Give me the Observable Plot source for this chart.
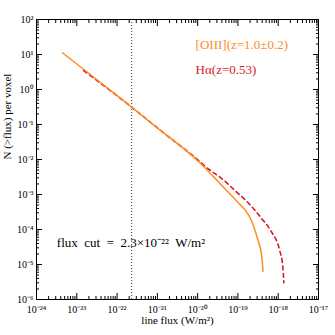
<!DOCTYPE html>
<html><head><meta charset="utf-8">
<script src="https://cdn.jsdelivr.net/npm/d3@7"></script>
<script src="https://cdn.jsdelivr.net/npm/@observablehq/plot@0.6"></script>
<style>html,body{margin:0;padding:0;background:#fff}</style>
</head><body><div id="chart"></div>
<script>
// [OIII] (z = 1.0 ± 0.2) cumulative counts
const oiiiFlux = [4.4e-24, 2.15e-22, 1.2e-21, 3.79e-21, 1.2e-20, 3.77e-20, 1.12e-19, 1.6e-19, 2.11e-19, 3.1e-19, 3.9e-19, 4.2e-19];
const oiiiN    = [11.2, 0.333, 0.0675, 0.024, 0.00753, 0.00193, 5.18e-4, 3.3e-4, 1.93e-4, 5.18e-5, 1.73e-5, 6.44e-6];
// Halpha (z = 0.53) cumulative counts
const haFlux = [1.47e-23, 2.15e-22, 1.2e-21, 9.9e-21, 1.92e-20, 3.77e-20, 1.08e-19, 1.58e-19, 3.75e-19, 6.65e-19, 1.07e-18, 1.3e-18, 1.38e-18];
const haN    = [3.49, 0.333, 0.0675, 0.010, 0.00518, 0.0030, 0.0010, 6.75e-4, 2.16e-4, 8.93e-5, 2.69e-5, 8.93e-6, 3.0e-6];

const xTicks = [1e-24, 1e-23, 1e-22, 1e-21, 1e-20, 1e-19, 1e-18, 1e-17];
const yTicks = [1e-6, 1e-5, 1e-4, 1e-3, 1e-2, 1e-1, 1e0, 1e1, 1e2];
const fluxCut = 2.3e-22;

const labelOIII = "[OIII](z=1.0±0.2)";
const labelHa = "Hα(z=0.53)";
const labelCut = "flux  cut  =  2.3×10⁻²²  W/m²";
const xLabel = "line flux (W/m²)";
const yLabel = "N (>flux) per voxel";

const orange = "#ff8c1f";
const red = "#d7192a";

const sup = {"-":"⁻","0":"⁰","1":"¹","2":"²","3":"³","4":"⁴","5":"⁵","6":"⁶","7":"⁷","8":"⁸","9":"⁹"};
const fmt = d => "10" + String(Math.round(Math.log10(d))).split("").map(c => sup[c]).join("");
const minors = ticks => ticks.slice(0, -1).flatMap(t => [2,3,4,5,6,7,8,9].map(k => k * t));

const oiii = oiiiFlux.map((x, i) => ({x, y: oiiiN[i]}));
const ha = haFlux.map((x, i) => ({x, y: haN[i]}));

const plot = Plot.plot({
  width: 335, height: 335,
  marginLeft: 36, marginRight: 17, marginTop: 19, marginBottom: 36,
  style: {fontFamily: "Liberation Serif", fontSize: "10px", background: "#fff", color: "#000"},
  x: {type: "log", domain: [1e-24, 1e-17]},
  y: {type: "log", domain: [1e-6, 1e2]},
  marks: [
    Plot.ruleX([fluxCut], {stroke: "#333", strokeDasharray: "1,2", strokeWidth: 1}),
    Plot.line(ha, {x: "x", y: "y", stroke: red, strokeWidth: 1.6, strokeDasharray: "4,3.5", curve: "monotone-x"}),
    Plot.line(oiii, {x: "x", y: "y", stroke: orange, strokeWidth: 1.5, curve: "monotone-x"}),
    Plot.frame({stroke: "#000", strokeWidth: 1}),
    Plot.axisX({anchor: "bottom", ticks: xTicks, tickSize: -6, tickFormat: fmt, tickPadding: 12, label: null}),
    Plot.axisX({anchor: "top", ticks: xTicks, tickSize: -6, tickFormat: () => "", label: null}),
    Plot.axisX({anchor: "bottom", ticks: minors(xTicks), tickSize: -3, tickFormat: () => "", label: null}),
    Plot.axisX({anchor: "top", ticks: minors(xTicks), tickSize: -3, tickFormat: () => "", label: null}),
    Plot.axisY({anchor: "left", ticks: yTicks, tickSize: -6, tickFormat: fmt, tickPadding: 9, label: null}),
    Plot.axisY({anchor: "right", ticks: yTicks, tickSize: -6, tickFormat: () => "", label: null}),
    Plot.axisY({anchor: "left", ticks: minors(yTicks), tickSize: -3, tickFormat: () => "", label: null}),
    Plot.axisY({anchor: "right", ticks: minors(yTicks), tickSize: -3, tickFormat: () => "", label: null}),
    Plot.text([labelOIII], {x: 8.9e-21, y: 19.3, text: d => d, textAnchor: "start", fill: orange, fontSize: 13}),
    Plot.text([labelHa], {x: 8.9e-21, y: 3.7, text: d => d, textAnchor: "start", fill: red, fontSize: 13}),
    Plot.text([labelCut], {x: 3.2e-24, y: 4.3e-5, text: d => d, textAnchor: "start", fill: "#000", fontSize: 13}),
    Plot.text([xLabel], {frameAnchor: "bottom", dy: 24, text: d => d, fontSize: 11}),
    Plot.text([yLabel], {frameAnchor: "left", dx: -29, rotate: -90, text: d => d, fontSize: 11})
  ]
});
document.getElementById("chart").appendChild(plot);
</script>
</body></html>
